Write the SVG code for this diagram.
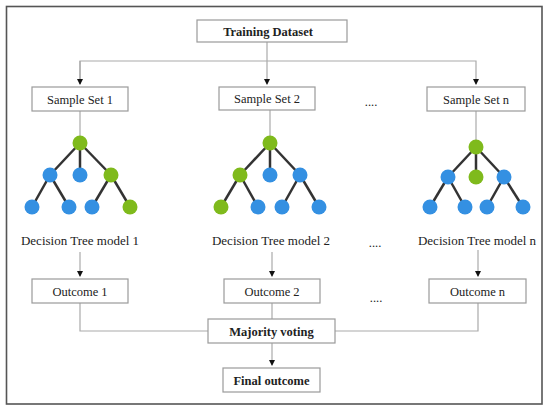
<svg xmlns="http://www.w3.org/2000/svg" width="550" height="411" viewBox="0 0 550 411">
<defs>
<marker id="arr" markerWidth="6" markerHeight="6" refX="5" refY="3" orient="auto" markerUnits="userSpaceOnUse">
<path d="M0,0 L6,3 L0,6 Z" fill="#111"/>
</marker>
<style>
.box{fill:#fff;stroke:#9a9a9a;stroke-width:1.2}
.t{font-family:"Liberation Serif","Times New Roman",serif;font-size:12.5px;fill:#222;text-anchor:middle}
.b{font-weight:bold}
.lbl{font-family:"Liberation Serif","Times New Roman",serif;font-size:13px;fill:#222;text-anchor:middle}
.con{fill:none;stroke:#aaaaaa;stroke-width:1.2}
.edge{stroke:#333;stroke-width:2.5}
.g{fill:#7fba1c}
.bl{fill:#3490e2}
</style>
</defs>
<rect x="0" y="0" width="550" height="411" fill="#fff"/>
<rect x="6.5" y="6.5" width="535.5" height="397.5" fill="none" stroke="#555" stroke-width="1.6"/>

<g id="connectors">
<path class="con" d="M267,42 V84" marker-end="url(#arr)"/>
<path class="con" d="M80,84 V61 H476 V84" marker-end="url(#arr)"/>
<path class="con" d="M80,61 V84" marker-end="url(#arr)"/>
<path class="con" d="M80,111 V136"/>
<path class="con" d="M270,110 V136"/>
<path class="con" d="M476,111 V140"/>
<path class="con" d="M80,252 V276" marker-end="url(#arr)"/>
<path class="con" d="M272,252 V276" marker-end="url(#arr)"/>
<path class="con" d="M478,250 V276" stroke="#555" marker-end="url(#arr)"/>
<path class="con" d="M272,303 V319"/>
<path class="con" d="M80,303 V331 H208"/>
<path class="con" d="M335,331 H478 V303"/>
<path class="con" d="M272,343 V365" marker-end="url(#arr)"/>
</g>

<g id="training-dataset">
<rect class="box" x="197" y="20" width="150" height="22"/>
<text class="t b" x="268" y="35.5">Training Dataset</text>
</g>
<g id="sample-set-1">
<rect class="box" x="32" y="87" width="96" height="24"/>
<text class="t" x="80" y="103.5">Sample Set 1</text>
</g>
<g id="sample-set-2">
<rect class="box" x="219" y="87" width="96" height="23"/>
<text class="t" x="267" y="103">Sample Set 2</text>
</g>
<g id="sample-set-n">
<rect class="box" x="427" y="87" width="98" height="24"/>
<text class="t" x="476" y="103.5">Sample Set n</text>
</g>
<g id="dots-1"><text class="t" x="371" y="106">....</text></g>

<g id="tree-1">
<line class="edge" x1="80" y1="143" x2="50" y2="175"/>
<line class="edge" x1="80" y1="143" x2="80" y2="175"/>
<line class="edge" x1="80" y1="143" x2="111" y2="175"/>
<line class="edge" x1="50" y1="175" x2="32" y2="207"/>
<line class="edge" x1="50" y1="175" x2="69" y2="207"/>
<line class="edge" x1="111" y1="175" x2="92" y2="207"/>
<line class="edge" x1="111" y1="175" x2="130" y2="207"/>
<circle class="g" cx="80" cy="143" r="7.5"/>
<circle class="bl" cx="50" cy="175" r="7.5"/>
<circle class="bl" cx="80" cy="175" r="7.5"/>
<circle class="g" cx="111" cy="175" r="7.5"/>
<circle class="bl" cx="32" cy="207" r="7.5"/>
<circle class="bl" cx="69" cy="207" r="7.5"/>
<circle class="bl" cx="92" cy="207" r="7.5"/>
<circle class="g" cx="130" cy="207" r="7.5"/>
<text class="lbl" x="80" y="245">Decision Tree model 1</text>
</g>

<g id="tree-2">
<line class="edge" x1="270" y1="143" x2="240" y2="175"/>
<line class="edge" x1="270" y1="143" x2="270" y2="175"/>
<line class="edge" x1="270" y1="143" x2="300" y2="175"/>
<line class="edge" x1="240" y1="175" x2="221" y2="207"/>
<line class="edge" x1="240" y1="175" x2="258" y2="207"/>
<line class="edge" x1="300" y1="175" x2="282" y2="207"/>
<line class="edge" x1="300" y1="175" x2="319" y2="207"/>
<circle class="g" cx="270" cy="143" r="7.5"/>
<circle class="g" cx="240" cy="175" r="7.5"/>
<circle class="bl" cx="270" cy="175" r="7.5"/>
<circle class="bl" cx="300" cy="175" r="7.5"/>
<circle class="g" cx="221" cy="207" r="7.5"/>
<circle class="bl" cx="258" cy="207" r="7.5"/>
<circle class="bl" cx="282" cy="207" r="7.5"/>
<circle class="bl" cx="319" cy="207" r="7.5"/>
<text class="lbl" x="271" y="245">Decision Tree model 2</text>
</g>

<g id="tree-n">
<line class="edge" x1="476" y1="147" x2="448" y2="177"/>
<line class="edge" x1="476" y1="147" x2="476" y2="177" stroke-width="3"/>
<line class="edge" x1="476" y1="147" x2="504" y2="177"/>
<line class="edge" x1="448" y1="177" x2="430" y2="207"/>
<line class="edge" x1="448" y1="177" x2="465" y2="207"/>
<line class="edge" x1="504" y1="177" x2="487" y2="207"/>
<line class="edge" x1="504" y1="177" x2="523" y2="207"/>
<circle class="g" cx="476" cy="147" r="7.5"/>
<circle class="bl" cx="448" cy="177" r="7.5"/>
<circle class="g" cx="476" cy="177" r="7.5"/>
<circle class="bl" cx="504" cy="177" r="7.5"/>
<circle class="bl" cx="430" cy="207" r="7.5"/>
<circle class="bl" cx="465" cy="207" r="7.5"/>
<circle class="bl" cx="487" cy="207" r="7.5"/>
<circle class="bl" cx="523" cy="207" r="7.5"/>
<text class="lbl" x="477" y="245">Decision Tree model n</text>
</g>
<g id="dots-2"><text class="t" x="375" y="247">....</text></g>

<g id="outcome-1">
<rect class="box" x="32" y="279" width="96" height="24"/>
<text class="t" x="80" y="295.5">Outcome 1</text>
</g>
<g id="outcome-2">
<rect class="box" x="224" y="279" width="96" height="24"/>
<text class="t" x="272" y="295.5">Outcome 2</text>
</g>
<g id="outcome-n">
<rect class="box" x="429" y="279" width="97" height="24"/>
<text class="t" x="477.5" y="295.5">Outcome n</text>
</g>
<g id="dots-3"><text class="t" x="376" y="302">....</text></g>

<g id="majority-voting">
<rect class="box" x="208" y="319" width="127" height="24"/>
<text class="t b" x="271.5" y="335.5">Majority voting</text>
</g>
<g id="final-outcome">
<rect class="box" x="223" y="368" width="97" height="24"/>
<text class="t b" x="271.5" y="384.5">Final outcome</text>
</g>
</svg>
